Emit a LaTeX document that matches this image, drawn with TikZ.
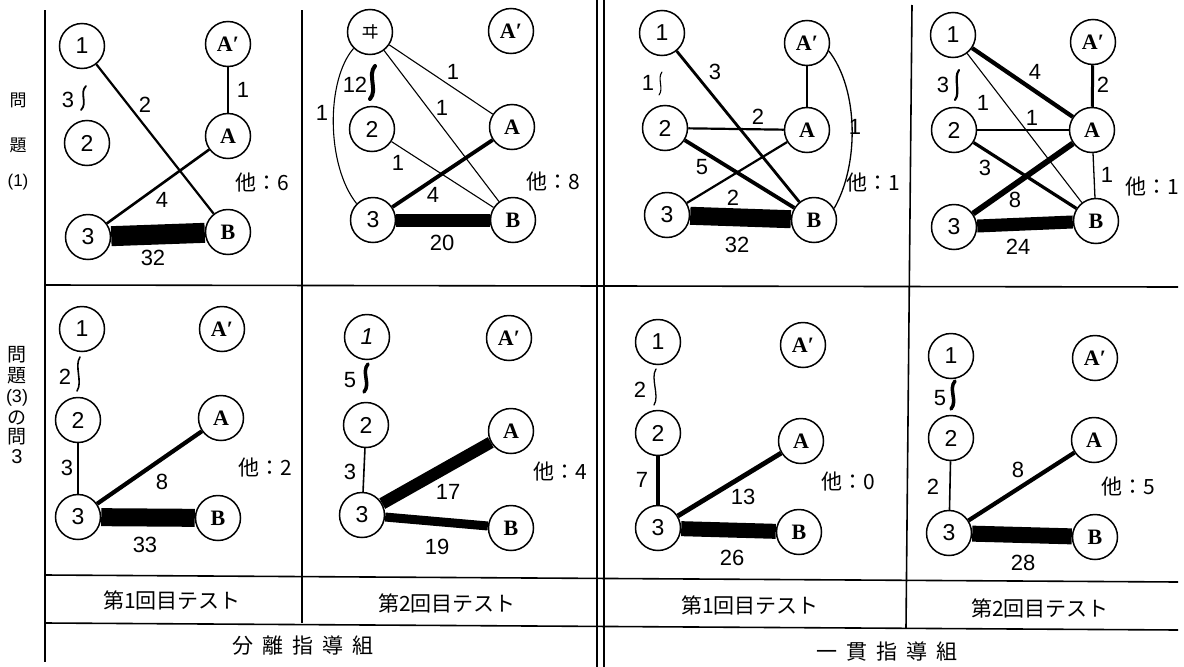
\documentclass[tikz,border=0pt]{standalone}
\usepackage{fontspec}
\setmainfont{Liberation Sans}
\newfontfamily\cjk{Noto Sans CJK JP}
\newfontfamily\serifb{Liberation Serif}
\usetikzlibrary{calc}
\pgfdeclarelayer{bg}
\pgfsetlayers{bg,main}
\begin{document}
\begin{tikzpicture}[x=1pt,y=-1pt,
  nd/.style={circle,draw,fill=white,line width=1.5pt,minimum size=45pt,inner sep=0pt,font=\fontsize{23}{23}\selectfont},
  ndl/.style={nd,font=\serifb\bfseries\fontsize{22}{22}\selectfont},
  ed/.style={line width=#1},
  lb/.style={inner sep=0pt,font=\fontsize{22}{22}\selectfont},
  oth/.style={inner sep=0pt,font=\cjk\fontsize{21}{21}\selectfont},
  sq/.style={line width=#1,line cap=round},
  gridl/.style={line width=1.6pt},
  side/.style={inner sep=0pt,font=\cjk\fontsize{17}{17}\selectfont},
  tst/.style={inner sep=0pt,font=\cjk\fontsize{21}{21}\selectfont},
  grp/.style={inner sep=0pt,font=\cjk\fontsize{21}{21}\selectfont}]
\useasboundingbox (0,0) rectangle (1184,667);

% ---------------- grid ----------------
\coordinate (g1t) at (45,10);  \coordinate (g1b) at (45,662);
\coordinate (g2t) at (302,10); \coordinate (g2b) at (302,623);
\coordinate (g3t) at (597,0);  \coordinate (g3b) at (597,667);
\coordinate (g4t) at (604,0);  \coordinate (g4b) at (604,667);
\coordinate (g5t) at (912,5);  \coordinate (g5b) at (906,628);
\coordinate (h1l) at (45,285); \coordinate (h1r) at (1178,287);
\coordinate (h2l) at (45,575); \coordinate (h2r) at (1178,582);
\coordinate (h3l) at (45,623); \coordinate (h3r) at (1178,630);
\draw[gridl] (g1t) -- (g1b);
\draw[gridl] (g2t) -- (g2b);
\draw[gridl] (g3t) -- (g3b);
\draw[gridl] (g4t) -- (g4b);
\draw[gridl] (g5t) -- (g5b);
\draw[gridl] (h1l) -- (h1r);
\draw[gridl] (h2l) -- (h2r);
\draw[gridl] (h3l) -- (h3r);

% side labels
\node[side] (s1) at (18,100) {問};
\node[side] (s2) at (18,145) {題};
\node[lb,font=\fontsize{17}{17}\selectfont] (s3) at (18,182) {(1)};
\node[side,font=\cjk\fontsize{19}{19}\selectfont] (t1) at (17,355) {問};
\node[side,font=\cjk\fontsize{19}{19}\selectfont] (t2) at (17,376) {題};
\node[lb,font=\fontsize{18}{18}\selectfont] (t3) at (17,398) {(3)};
\node[side,font=\cjk\fontsize{19}{19}\selectfont] (t4) at (17,418) {の};
\node[side,font=\cjk\fontsize{19}{19}\selectfont] (t5) at (17,437) {問};
\node[lb,font=\fontsize{20}{20}\selectfont] (t6) at (17,457) {3};

% bottom labels
\node[tst] (b1) at (172,600) {第1回目テスト};
\node[tst] (b2) at (447,603) {第2回目テスト};
\node[tst] (b3) at (750,605) {第1回目テスト};
\node[tst] (b4) at (1040,608) {第2回目テスト};
\node[grp] (c1) at (303,646) {分\hspace{9pt}離\hspace{9pt}指\hspace{9pt}導\hspace{9pt}組};
\node[grp] (c2) at (887,652) {一\hspace{9pt}貫\hspace{9pt}指\hspace{9pt}導\hspace{9pt}組};

% ================= panel 1 =================
\node[nd] (p1n1) at (82,46) {1};
\node[ndl] (p1Ap) at (228,44) {A′};
\node[nd] (p1n2) at (87,143) {2};
\node[ndl] (p1A) at (228,136) {A};
\node[nd] (p1n3) at (88,237) {3};
\node[ndl] (p1B) at (228,232) {B};
\begin{pgfonlayer}{bg}
\draw[ed=2.2pt] (p1n1) -- (p1B);
\draw[ed=1.4pt] (p1Ap) -- (p1A);
\draw[ed=2.6pt] (p1n3) -- (p1A);
\draw[ed=20pt] (p1n3) -- (p1B);
\end{pgfonlayer}
\node[lb] (p1l1) at (145,105) {2};
\node[lb] (p1l2) at (243,90) {1};
\node[lb] (p1l3) at (162,200) {4};
\node[lb] (p1l4) at (153,258) {32};
\node[lb] (p1l5) at (68,100) {3};
\coordinate (p1sa) at (86,86); \coordinate (p1sb) at (81,110);
\draw[sq=1.8pt] (p1sa) .. controls +(-7,7) and +(7,-7) .. (p1sb);
\node[oth] (p1o) at (262,183) {他：6};

% ================= panel 2 =================
\node[nd,font=\cjk\fontsize{18}{18}\selectfont] (p2n1) at (370,32) {ヰ};
\node[ndl] (p2Ap) at (511,31) {A′};
\node[nd] (p2n2) at (372,129) {2};
\node[ndl] (p2A) at (512,127) {A};
\node[nd] (p2n3) at (373,220) {3};
\node[ndl] (p2B) at (513,220) {B};
\begin{pgfonlayer}{bg}
\draw[ed=1.1pt] (p2n1) -- (p2A);
\draw[ed=1.1pt] (p2n1) -- (p2B);
\draw[ed=1.1pt] (p2n2) -- (p2B);
\draw[ed=3.8pt] (p2n3) -- (p2A);
\draw[ed=13pt] (p2n3) -- (p2B);
\draw[ed=1.1pt] (p2n1.225) .. controls (326,80) and (326,165) .. (p2n3.135);
\end{pgfonlayer}
\node[lb] (p2l1) at (453,72) {1};
\node[lb] (p2l2) at (442,108) {1};
\node[lb] (p2l3) at (398,163) {1};
\node[lb] (p2l4) at (433,195) {4};
\node[lb] (p2l5) at (442,243) {20};
\node[lb] (p2l6) at (322,113) {1};
\node[lb] (p2l7) at (355,85) {12};
\coordinate (p2sa) at (375,66); \coordinate (p2sb) at (370,99);
\draw[sq=4pt] (p2sa) .. controls +(-8,9) and +(8,-9) .. (p2sb);
\node[oth] (p2o) at (553,182) {他：8};

% ================= panel 3 =================
\node[nd] (p3n1) at (662,33) {1};
\node[ndl] (p3Ap) at (807,43) {A′};
\node[nd] (p3n2) at (665,128) {2};
\node[ndl] (p3A) at (807,130) {A};
\node[nd] (p3n3) at (667,215) {3};
\node[ndl] (p3B) at (814,220) {B};
\begin{pgfonlayer}{bg}
\draw[ed=2.8pt] (p3n1) -- (p3B);
\draw[ed=1.3pt] (p3Ap) -- (p3A);
\draw[ed=1.3pt] (p3Ap.-20) .. controls (859,90) and (859,165) .. (p3B.30);
\draw[ed=2.2pt] (p3n2) -- (p3A);
\draw[ed=3.8pt] (p3n2) -- (p3B);
\draw[ed=2.2pt] (p3n3) -- (p3A);
\draw[ed=18pt] (p3n3) -- (p3B);
\end{pgfonlayer}
\node[lb] (p3l1) at (715,72) {3};
\node[lb] (p3l2) at (855,127) {1};
\node[lb] (p3l3) at (758,117) {2};
\node[lb] (p3l4) at (702,167) {5};
\node[lb] (p3l5) at (733,198) {2};
\node[lb] (p3l6) at (737,245) {32};
\node[lb] (p3l7) at (648,83) {1};
\coordinate (p3sa) at (662,72); \coordinate (p3sb) at (659,95);
\draw[sq=1.1pt] (p3sa) .. controls +(-5,6) and +(5,-6) .. (p3sb);
\node[oth] (p3o) at (873,183) {他：1};

% ================= panel 4 =================
\node[nd] (p4n1) at (953,35) {1};
\node[ndl] (p4Ap) at (1093,42) {A′};
\node[nd] (p4n2) at (954,130) {2};
\node[ndl] (p4A) at (1092,130) {A};
\node[nd] (p4n3) at (954,227) {3};
\node[ndl] (p4B) at (1096,221) {B};
\begin{pgfonlayer}{bg}
\draw[ed=4.2pt] (p4n1) -- (p4A);
\draw[ed=1.1pt] (p4n1) -- (p4B);
\draw[ed=3pt] (p4Ap) -- (p4A);
\draw[ed=1.1pt] (p4n2) -- (p4A);
\draw[ed=3.2pt] (p4n2) -- (p4B);
\draw[ed=5.8pt] (p4n3) -- (p4A);
\draw[ed=1.3pt] (p4A) -- (p4B);
\draw[ed=13pt] (p4n3) -- (p4B);
\end{pgfonlayer}
\node[lb] (p4l1) at (1035,72) {4};
\node[lb] (p4l2) at (983,103) {1};
\node[lb] (p4l3) at (1103,85) {2};
\node[lb] (p4l4) at (1032,118) {1};
\node[lb] (p4l5) at (985,168) {3};
\node[lb] (p4l6) at (1015,200) {8};
\node[lb] (p4l7) at (1107,175) {1};
\node[lb] (p4l8) at (1018,247) {24};
\node[lb] (p4l9) at (943,85) {3};
\coordinate (p4sa) at (959,70); \coordinate (p4sb) at (955,100);
\draw[sq=2.2pt] (p4sa) .. controls +(-6,8) and +(6,-8) .. (p4sb);
\node[oth] (p4o) at (1152,187) {他：1};

% ================= panel 5 =================
\node[nd] (p5n1) at (82,329) {1};
\node[ndl] (p5Ap) at (222,329) {A′};
\node[nd] (p5n2) at (78,420) {2};
\node[ndl] (p5A) at (221,418) {A};
\node[nd] (p5n3) at (78,517) {3};
\node[ndl] (p5B) at (218,518) {B};
\begin{pgfonlayer}{bg}
\draw[ed=2.2pt] (p5n2) -- (p5n3);
\draw[ed=4.2pt] (p5n3) -- (p5A);
\draw[ed=18pt] (p5n3) -- (p5B);
\end{pgfonlayer}
\node[lb] (p5l1) at (67,468) {3};
\node[lb] (p5l2) at (162,482) {8};
\node[lb] (p5l3) at (145,545) {33};
\node[lb] (p5l4) at (65,377) {2};
\coordinate (p5sa) at (80,357); \coordinate (p5sb) at (77,391);
\draw[sq=1.6pt] (p5sa) .. controls +(-6,9) and +(6,-9) .. (p5sb);
\node[oth] (p5o) at (265,468) {他：2};

% ================= panel 6 =================
\node[nd] (p6n1) at (367,337) {\textit{1}};
\node[ndl] (p6Ap) at (509,338) {A′};
\node[nd] (p6n2) at (366,425) {2};
\node[ndl] (p6A) at (511,431) {A};
\node[nd] (p6n3) at (362,515) {3};
\node[ndl] (p6B) at (511,528) {B};
\begin{pgfonlayer}{bg}
\draw[ed=1.6pt] (p6n2) -- (p6n3);
\draw[ed=12pt] (p6n3) -- (p6A);
\draw[ed=9pt] (p6n3) -- (p6B);
\end{pgfonlayer}
\node[lb] (p6l1) at (350,472) {3};
\node[lb] (p6l2) at (448,492) {17};
\node[lb] (p6l3) at (437,547) {19};
\node[lb] (p6l4) at (350,380) {5};
\coordinate (p6sa) at (368,364); \coordinate (p6sb) at (364,392);
\draw[sq=3.5pt] (p6sa) .. controls +(-7,8) and +(7,-8) .. (p6sb);
\node[oth] (p6o) at (560,472) {他：4};

% ================= panel 7 =================
\node[nd] (p7n1) at (658,342) {1};
\node[ndl] (p7Ap) at (803,345) {A′};
\node[nd] (p7n2) at (658,433) {2};
\node[ndl] (p7A) at (801,441) {A};
\node[nd] (p7n3) at (658,528) {3};
\node[ndl] (p7B) at (799,532) {B};
\begin{pgfonlayer}{bg}
\draw[ed=3.8pt] (p7n2) -- (p7n3);
\draw[ed=4.8pt] (p7n3) -- (p7A);
\draw[ed=15pt] (p7n3) -- (p7B);
\end{pgfonlayer}
\node[lb] (p7l1) at (642,480) {7};
\node[lb] (p7l2) at (743,497) {13};
\node[lb] (p7l3) at (732,558) {26};
\node[lb] (p7l4) at (640,390) {2};
\coordinate (p7sa) at (656,369); \coordinate (p7sb) at (654,405);
\draw[sq=1.3pt] (p7sa) .. controls +(-6,9) and +(6,-9) .. (p7sb);
\node[oth] (p7o) at (848,482) {他：0};

% ================= panel 8 =================
\node[nd] (p8n1) at (951,356) {1};
\node[ndl] (p8Ap) at (1095,358) {A′};
\node[nd] (p8n2) at (951,438) {2};
\node[ndl] (p8A) at (1094,440) {A};
\node[nd] (p8n3) at (949,533) {3};
\node[ndl] (p8B) at (1095,537) {B};
\begin{pgfonlayer}{bg}
\draw[ed=1.6pt] (p8n2) -- (p8n3);
\draw[ed=4.2pt] (p8n3) -- (p8A);
\draw[ed=16pt] (p8n3) -- (p8B);
\end{pgfonlayer}
\node[lb] (p8l1) at (933,487) {2};
\node[lb] (p8l2) at (1018,470) {8};
\node[lb] (p8l3) at (1023,563) {28};
\node[lb] (p8l4) at (940,398) {5};
\coordinate (p8sa) at (955,381); \coordinate (p8sb) at (951,409);
\draw[sq=3.5pt] (p8sa) .. controls +(-7,8) and +(7,-8) .. (p8sb);
\node[oth] (p8o) at (1128,487) {他：5};
\end{tikzpicture}
\end{document}
